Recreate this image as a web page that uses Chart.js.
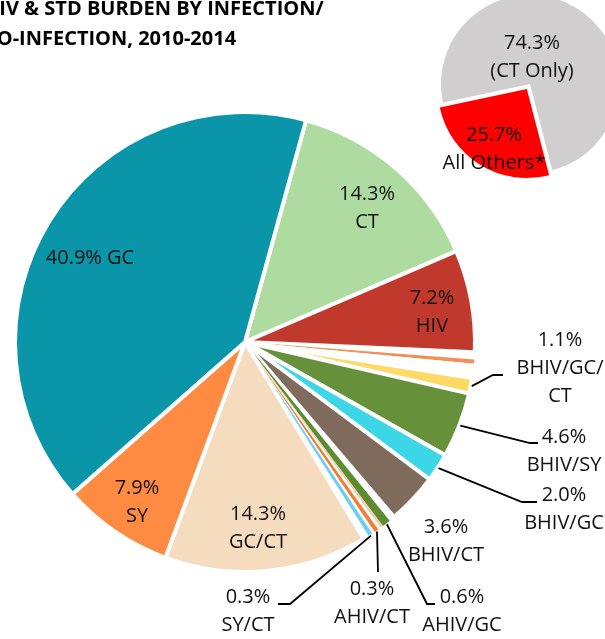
<!DOCTYPE html>
<html>
<head>
<meta charset="utf-8">
<script src="https://cdn.jsdelivr.net/npm/chart.js@4.4.1/dist/chart.umd.min.js"></script>
<style>
  html, body { margin: 0; padding: 0; background: #fff; }
  #wrap { position: relative; width: 605px; height: 639px; overflow: hidden; background: #fff; }
  #title {
    position: absolute; left: -16px; top: -7px;
    font-family: "Open Sans", sans-serif; font-weight: 700; font-size: 20px;
    line-height: 30px; color: #000; white-space: nowrap;
  }
  canvas { position: absolute; }
</style>
</head>
<body>
<div id="wrap">
  <canvas id="main" width="605" height="639"></canvas>
  <canvas id="inset" width="240" height="240"></canvas>
  <div id="title">HIV &amp; STD BURDEN BY INFECTION/<br>CO-INFECTION, 2010-2014</div>
</div>
<script>
// Main pie: share of burden by infection / co-infection (%), clockwise from top.
// Empty names are unlabeled parts of the pie (small gaps / tiny slivers).
const categories = ['CT', 'HIV', '', '', '', 'BHIV/GC/CT', 'BHIV/SY', 'BHIV/GC', 'BHIV/CT', '',
  'AHIV/GC', '', '', 'AHIV/CT', '', 'SY/CT', '', 'GC/CT', 'SY', 'GC'];
const shares = [14.3, 7.2, 0.5, 0.3, 1.0, 1.1, 4.6, 2.0, 3.6, 0.4,
  0.6, 0.2, 0.2, 0.3, 0.2, 0.3, 0.4, 14.3, 7.9, 40.9];

// Inset pie
const insetCategories = ['CT Only', 'All Others*'];
const insetShares = [74.3, 25.7];

// colours, one per slice
const sliceColors = ['#AEDCA0', '#C1392C', '#FFFFFF', '#EF9057', '#FFFFFF', '#FFD966', '#67903B',
  '#3DD6E6', '#7F6B5B', '#FFFFFF', '#5B8C30', '#F8CBAD', '#FFFFFF', '#F08030', '#FFFFFF',
  '#6CCFF0', '#FFFFFF', '#F5DCBE', '#FF8A42', '#0A96A8'];
const insetColors = ['#D0CECE', '#FF0000'];

// where the label text goes (page px, centre of first line) and leader elbows
const labelLayout = {
  'GC':         { x: 90,  y: 258, inline: true },
  'CT':         { x: 367, y: 194 },
  'HIV':        { x: 432, y: 298 },
  'BHIV/GC/CT': { x: 560, y: 340, breakAt: 8, leader: [[493, 375], [503, 375]] },
  'BHIV/SY':    { x: 564, y: 437, leader: [[530, 443], [538, 443]] },
  'BHIV/GC':    { x: 564, y: 495, leader: [[522, 502], [537, 502]] },
  'BHIV/CT':    { x: 446, y: 527 },
  'AHIV/GC':    { x: 462, y: 597, leader: [[427, 604], [435, 604]] },
  'AHIV/CT':    { x: 372, y: 589, leader: [[378, 572]] },
  'SY/CT':      { x: 248, y: 597, leader: [[290, 604], [278, 604]] },
  'GC/CT':      { x: 258, y: 514 },
  'SY':         { x: 137, y: 488 }
};
const insetLayout = {
  'CT Only':     { x: 532, y: 43, paren: true },
  'All Others*': { x: 494, y: 135 }
};

const INSET_LEFT = 410, INSET_TOP = -36;
const FONT = '20px "Open Sans", sans-serif';
const LINE_H = 28;

function textLines(name, value, cfg) {
  const pct = value.toFixed(1) + '%';
  if (cfg.inline) return [pct + ' ' + name];
  if (cfg.paren) return [pct, '(' + name + ')'];
  if (cfg.breakAt) return [pct, name.slice(0, cfg.breakAt), name.slice(cfg.breakAt)];
  return [pct, name];
}

function labelPlugin(names, values, layout, dx, dy) {
  return {
    id: 'sliceLabels',
    afterDatasetsDraw(chart) {
      const ctx = chart.ctx;
      const arcs = chart.getDatasetMeta(0).data;
      ctx.save();
      ctx.font = FONT;
      ctx.fillStyle = '#111';
      ctx.textAlign = 'center';
      ctx.textBaseline = 'middle';
      ctx.strokeStyle = '#000';
      ctx.lineWidth = 1.8;
      names.forEach((name, i) => {
        const cfg = layout[name];
        if (!name || !cfg) return;
        if (cfg.leader) {
          const p = arcs[i].getProps(['x', 'y', 'startAngle', 'endAngle', 'outerRadius'], true);
          const mid = (p.startAngle + p.endAngle) / 2;
          const r = p.outerRadius + 1;
          ctx.beginPath();
          ctx.moveTo(p.x + Math.cos(mid) * r, p.y + Math.sin(mid) * r);
          cfg.leader.forEach(pt => ctx.lineTo(pt[0] - dx, pt[1] - dy));
          ctx.stroke();
        }
        textLines(name, values[i], cfg).forEach((line, k) => {
          ctx.fillText(line, cfg.x - dx, cfg.y - dy + k * LINE_H);
        });
      });
      ctx.restore();
    }
  };
}

const mainCanvas = document.getElementById('main');
mainCanvas.style.left = '0px';
mainCanvas.style.top = '0px';

new Chart(mainCanvas, {
  type: 'pie',
  data: {
    labels: categories,
    datasets: [{
      data: shares,
      backgroundColor: sliceColors,
      borderColor: '#FFFFFF',
      borderWidth: shares.map((v, i) => categories[i] && v >= 1 ? 4 : 0)
    }]
  },
  options: {
    responsive: false,
    animation: false,
    rotation: 15.4,
    radius: 230,
    layout: { padding: { left: 0, right: 115, top: 45, bottom: 0 } },
    plugins: { legend: { display: false }, tooltip: { enabled: false }, title: { display: false } }
  },
  plugins: [labelPlugin(categories, shares, labelLayout, 0, 0)]
});

const insetCanvas = document.getElementById('inset');
insetCanvas.style.left = INSET_LEFT + 'px';
insetCanvas.style.top = INSET_TOP + 'px';

new Chart(insetCanvas, {
  type: 'pie',
  data: {
    labels: insetCategories,
    datasets: [{
      data: insetShares,
      backgroundColor: insetColors,
      borderWidth: 0,
      offset: [0, 24]
    }]
  },
  options: {
    responsive: false,
    animation: false,
    rotation: 258,
    radius: 89,
    layout: { padding: 0 },
    plugins: { legend: { display: false }, tooltip: { enabled: false } }
  },
  plugins: [labelPlugin(insetCategories, insetShares, insetLayout, INSET_LEFT, INSET_TOP)]
});
</script>
</body>
</html>
